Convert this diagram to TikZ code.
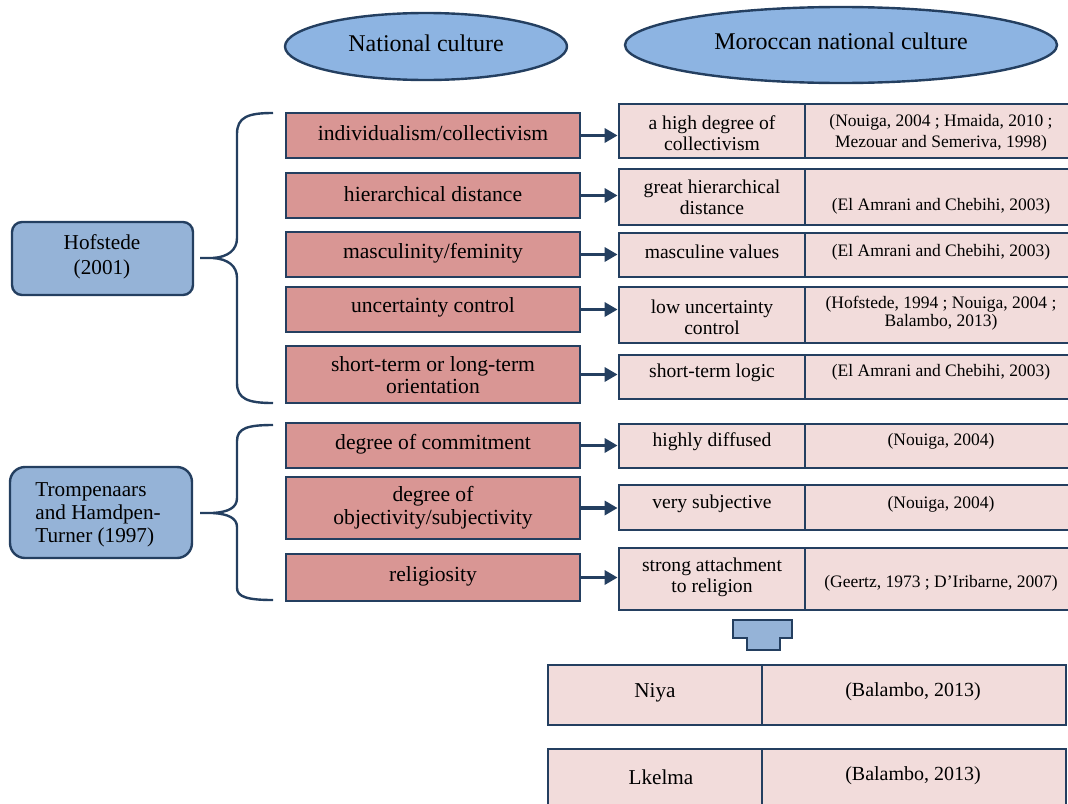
\documentclass[tikz,border=0pt]{standalone}
\usepackage{fontspec}
\setmainfont{Liberation Serif}
\usetikzlibrary{fit,shapes.geometric,arrows.meta}
\definecolor{navy}{HTML}{243F60}
\definecolor{dimfill}{HTML}{D99694}
\definecolor{cellfill}{HTML}{F2DCDB}
\definecolor{ovalfill}{HTML}{8DB4E2}
\definecolor{srcfill}{HTML}{95B3D7}
\tikzset{
  dimbox/.style={draw=navy, line width=1.25pt, fill=dimfill, inner sep=0pt},
  dimtxt/.style={inner sep=0pt, align=center, font=\fontsize{10.8}{11.3}\selectfont},
  cellbox/.style={draw=navy, line width=1.4pt, fill=cellfill, inner sep=0pt},
  srcbox/.style={draw=navy, line width=1.2pt, fill=srcfill, inner sep=0pt},
  oval/.style={ellipse, draw=navy, line width=1.2pt, fill=ovalfill, inner sep=0pt,
    font=\fontsize{12}{14}\selectfont},
  celltxt/.style={inner sep=0pt, align=center, font=\fontsize{9.8}{10.5}\selectfont},
  citetxt/.style={inner sep=0pt, align=center, font=\fontsize{8.75}{10.5}\selectfont},
  srctxt/.style={inner sep=0pt, font=\fontsize{10.6}{12}\selectfont},
  bottxt/.style={inner sep=0pt, align=center, font=\fontsize{10.6}{12}\selectfont},
  link/.style={draw=navy, line width=1.8pt, -{Triangle[length=6.5pt,width=7pt]}},
  brace/.style={draw=navy, line width=1.2pt, line join=round},
}
\begin{document}
\begin{tikzpicture}[x=0.5pt,y=-0.5pt]
\useasboundingbox (0,0) rectangle (1068,803);
\clip (0,0) rectangle (1068,803);

% column headings
\node[oval, minimum width=141pt, minimum height=33.5pt] (natc) at (426,46.5) {\raisebox{3pt}{National culture}};
\node[oval, minimum width=216pt, minimum height=38pt] (morc) at (841,45) {\raisebox{4pt}{Moroccan national culture}};

% cultural dimensions
\node[dimbox, fit={(286,113) (580,158)}] (d1) {};
\node[dimbox, fit={(286,173) (580,218)}] (d2) {};
\node[dimbox, fit={(286,232) (580,277)}] (d3) {};
\node[dimbox, fit={(286,287) (580,332)}] (d4) {};
\node[dimbox, fit={(286,346) (580,403)}] (d5) {};
\node[dimbox, fit={(286,423) (580,468)}] (d6) {};
\node[dimbox, fit={(286,477) (580,539)}] (d7) {};
\node[dimbox, fit={(286,554) (580,601)}] (d8) {};
\node[dimtxt] (d1t) at (433,133.5) {individualism/collectivism};
\node[dimtxt] (d2t) at (433,194) {hierarchical distance};
\node[dimtxt] (d3t) at (433,253) {masculinity/feminity};
\node[dimtxt] (d4t) at (433,307.5) {uncertainty control};
\node[dimtxt] (d5t) at (433,375) {short-term or long-term\\orientation};
\node[dimtxt] (d6t) at (433,444) {degree of commitment};
\node[dimtxt] (d7t) at (433,508) {degree of\\objectivity/subjectivity};
\node[dimtxt] (d8t) at (433,576) {religiosity};

% Moroccan characteristics: description cell and reference cell
\node[cellbox, fit={(619,104) (805,158)}] (r1a) {};
\node[cellbox, fit={(805,104) (1077,158)}] (r1b) {};
\node[cellbox, fit={(619,169) (805,225)}] (r2a) {};
\node[cellbox, fit={(805,169) (1077,225)}] (r2b) {};
\node[cellbox, fit={(619,233) (805,277)}] (r3a) {};
\node[cellbox, fit={(805,233) (1077,277)}] (r3b) {};
\node[cellbox, fit={(619,287) (805,343)}] (r4a) {};
\node[cellbox, fit={(805,287) (1077,343)}] (r4b) {};
\node[cellbox, fit={(619,355) (805,399)}] (r5a) {};
\node[cellbox, fit={(805,355) (1077,399)}] (r5b) {};
\node[cellbox, fit={(619,424) (805,468)}] (r6a) {};
\node[cellbox, fit={(805,424) (1077,468)}] (r6b) {};
\node[cellbox, fit={(619,485) (805,530)}] (r7a) {};
\node[cellbox, fit={(805,485) (1077,530)}] (r7b) {};
\node[cellbox, fit={(619,548) (805,610)}] (r8a) {};
\node[cellbox, fit={(805,548) (1077,610)}] (r8b) {};

\node[celltxt] (t1a) at (712,133) {a high degree of\\collectivism};
\node[citetxt] (t1b) at (941,132.5) {(Nouiga, 2004 ; Hmaida, 2010 ;\\Mezouar and Semeriva, 1998)};
\node[celltxt] (t2a) at (712,197.5) {great hierarchical\\distance};
\node[citetxt] (t2b) at (941,206) {(El Amrani and Chebihi, 2003)};
\node[celltxt] (t3a) at (712,252) {masculine values};
\node[citetxt] (t3b) at (941,252) {(El Amrani and Chebihi, 2003)};
\node[celltxt] (t4a) at (712,317.5) {low uncertainty\\control};
\node[citetxt, font=\fontsize{8.75}{9}\selectfont] (t4b) at (941,313) {(Hofstede, 1994 ; Nouiga, 2004 ;\\Balambo, 2013)};
\node[celltxt] (t5a) at (712,373) {short-term logic};
\node[citetxt] (t5b) at (941,372) {(El Amrani and Chebihi, 2003)};
\node[celltxt] (t6a) at (712,442) {highly diffused};
\node[citetxt] (t6b) at (941,441) {(Nouiga, 2004)};
\node[celltxt] (t7a) at (712,504) {very subjective};
\node[citetxt] (t7b) at (941,504) {(Nouiga, 2004)};
\node[celltxt] (t8a) at (712,577.5) {strong attachment\\to religion};
\node[citetxt] (t8b) at (941,583) {(Geertz, 1973 ; D'Iribarne, 2007)};

% dimension -> characteristic
\foreach \i in {1,...,8}
  \draw[link] (d\i.east) -- (d\i.east -| r\i a.west);

% sources
\node[srcbox, rounded corners=5pt, fit={(12,222) (193,295)}] (hof) {};
\node[srctxt, align=center] (hoft) at (102,257) {Hofstede\\[0.5pt](2001)};
\node[srcbox, rounded corners=7.5pt, fit={(10,467) (192,558)}] (tro) {};
\node[srctxt, align=left, anchor=west, font=\fontsize{10.6}{11.5}\selectfont] (trot) at (35,515) {Trompenaars\\and Hamdpen-\\Turner (1997)};

% braces grouping the dimensions of each source
\coordinate (htip) at (200,258);
\coordinate (ttip) at (200,513);
\draw[brace] (273,113) .. controls (248,113) and (237,117) .. (237,134) -- (237,238)
  .. controls (237,250) and (228,257) .. (213,258) -- (htip);
\draw[brace] (213,258) .. controls (228,259) and (237,266) .. (237,278) -- (237,383)
  .. controls (237,399) and (248,403) .. (273,403);
\draw[brace] (273,425) .. controls (248,425) and (237,428) .. (237,441) -- (237,498)
  .. controls (237,508) and (228,512) .. (213,513) -- (ttip);
\draw[brace] (213,513) .. controls (228,514) and (237,518) .. (237,527) -- (237,588)
  .. controls (237,597) and (248,600) .. (273,600);

% block arrow pointing down
\draw[draw=navy, line width=1.3pt, fill=srcfill, line join=miter]
  (733,620) -- (792,620) -- (792,638) -- (780,638) -- (780,650)
  -- (747,650) -- (747,638) -- (733,638) -- cycle;

% local concepts
\node[cellbox, fit={(548,665) (762,725)}] (niya) {};
\node[cellbox, fit={(762,665) (1066,725)}] (niyar) {};
\node[cellbox, fit={(548,749) (762,812)}] (lkel) {};
\node[cellbox, fit={(762,749) (1066,812)}] (lkelr) {};
\node[bottxt] (niyat) at (655,693) {Niya};
\node[bottxt, font=\fontsize{10}{12}\selectfont] (niyart) at (913,692) {(Balambo, 2013)};
\node[bottxt] (lkelt) at (661,777) {Lkelma};
\node[bottxt, font=\fontsize{10}{12}\selectfont] (lkelrt) at (913,776) {(Balambo, 2013)};
\end{tikzpicture}
\end{document}
